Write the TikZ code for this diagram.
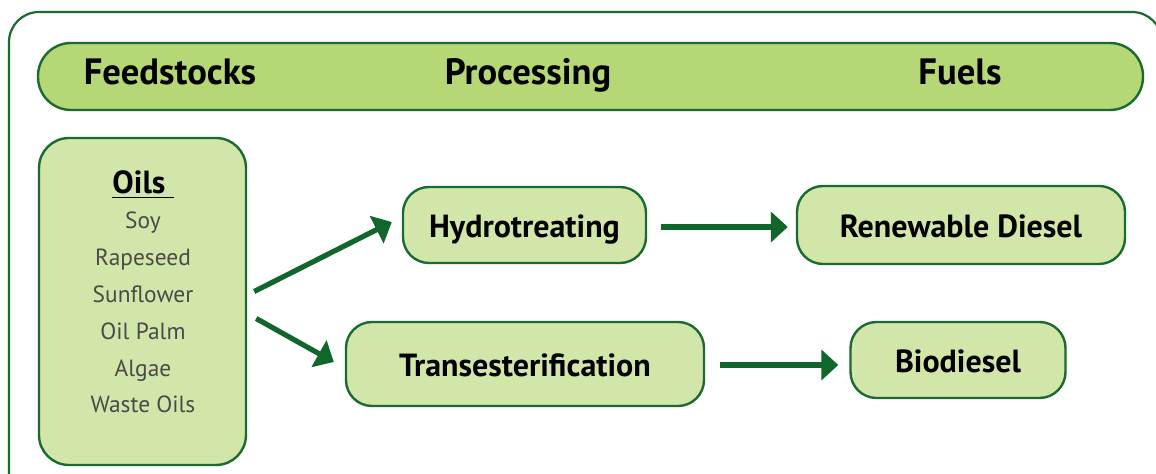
\documentclass[tikz,border=0pt]{standalone}
\usepackage{fontspec}
\setmainfont{PT Sans}
\usetikzlibrary{arrows.meta,positioning}
\definecolor{edgeColor}{HTML}{1B6A2F}
\definecolor{arrColor}{HTML}{10662B}
\definecolor{barColor}{HTML}{B5D775}
\definecolor{boxColor}{HTML}{D3E6A9}
\definecolor{itemColor}{HTML}{4A4A4A}
\tikzset{
	stage/.style={draw=edgeColor, line width=1.2pt, fill=boxColor, rounded corners=13pt,
		inner sep=0pt, text height=1.3em, text depth=0pt,
		font=\fontsize{16}{19}\selectfont\bfseries},
	heading/.style={anchor=base, font=\fontsize{18.3}{22}\selectfont\bfseries},
	item/.style={anchor=base, text=itemColor, font=\fontsize{11.7}{14}\selectfont},
	flow/.style={-{Triangle[length=8.5pt,width=15pt]}, draw=arrColor, line width=2.6pt}
}

\begin{document}
\begin{tikzpicture}[x=0.5pt,y=-0.5pt]
	\useasboundingbox (0,0) rectangle (1156,474);
	\begin{scope}
		\clip (0,0) rectangle (1156,474);
		\draw[edgeColor, line width=1.1pt, rounded corners=15pt] (9,12) rectangle (1162,510);
	\end{scope}
	% header bar
	\node[draw=edgeColor, line width=1.2pt, fill=barColor, rounded corners=16.5pt,
		minimum width=552.5pt, minimum height=33.5pt] (bar) at (590.5,76.5) {};
	\node[heading] (hfeed) at (170,85) {Feedstocks};
	\node[heading] (hproc) at (528,85) {Processing};
	\node[heading] (hfuel) at (960,85) {Fuels};
	% feedstocks
	\node[stage, rounded corners=15pt, minimum width=103.5pt, minimum height=163.5pt] (oils) at (142.5,301.5) {};
	\node[heading, font=\fontsize{16}{19}\selectfont\bfseries] (oilshead) at (143,194) {\underline{Oils\ }};
	\foreach \name [count=\i from 0] in {Soy,Rapeseed,Sunflower,Oil Palm,Algae,Waste Oils}
		\node[item] (item\i) at (143,{229+36.8*\i}) {\name};
	% processing and fuels
	\node[stage, minimum width=121.5pt, minimum height=38pt] (hydro) at (524.5,225) {Hydrotreating};
	\node[stage, minimum width=179pt, minimum height=42pt] (trans) at (525,364) {Transesterification};
	\node[stage, minimum width=164pt, minimum height=39pt] (rdiesel) at (961,225) {Renewable Diesel};
	\node[stage, minimum width=107.5pt, minimum height=38pt] (biodiesel) at (958,360) {Biodiesel};
	% arrows
	\draw[flow] ([shift={(7,-10)}]oils.east) -- ([shift={(-10,-3)}]hydro.west);
	\draw[flow] ([shift={(9,17)}]oils.east) -- ([shift={(-11,-2)}]trans.west);
	\draw[flow] ([shift={(14,2)}]hydro.east) -- ([shift={(-8,2)}]rdiesel.west);
	\draw[flow] ([shift={(15,1)}]trans.east) -- ([shift={(-11,5)}]biodiesel.west);
\end{tikzpicture}
\end{document}
